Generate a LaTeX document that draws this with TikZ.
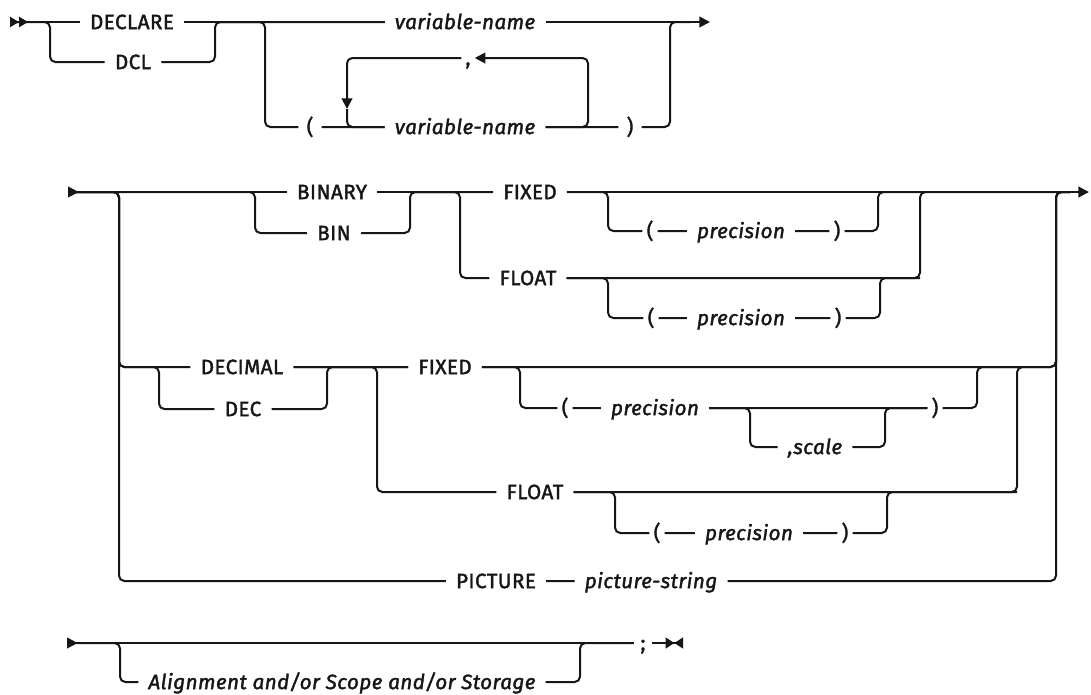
\documentclass[tikz,border=0pt]{standalone}
\usepackage{fontspec}
\newfontfamily\railfont{Fira Sans}[LetterSpace=2,FakeBold=1.8]
\usetikzlibrary{arrows.meta}

\begin{document}
\begin{tikzpicture}[x=0.75pt,y=-0.75pt,
  rail/.style={line width=1.5pt,rounded corners=4pt,draw=ink},
  kw/.style={font=\railfont\fontsize{15.5pt}{18pt}\selectfont,text=ink,inner xsep=7.5pt,inner ysep=2pt,text height=10.6pt,text depth=0pt},
  var/.style={kw,font=\railfont\fontsize{15.5pt}{18pt}\selectfont\itshape},
  sym/.style={kw,inner xsep=3pt},
  tip/.style={-{Triangle[length=8pt,width=8pt]}},
  lead/.style={{Triangle[reversed,length=8pt,width=8pt]}-}]
  \definecolor{ink}{HTML}{161616}
  \useasboundingbox (0,0) rectangle (1091,694);
  % First line: the keyword and the name list.
  \coordinate (r1s) at (10,22);
  \coordinate (c1) at (50,62);
  \coordinate (m1) at (215,22);
  \coordinate (c2) at (265,127);
  \coordinate (lpL) at (347,109);
  \coordinate (lpR) at (588,58);
  \coordinate (m2) at (670,22);
  \coordinate (r1j) at (690,22);
  \coordinate (r1e) at (710,22);
  \node[kw] (declare) at (132,22) {DECLARE};
  \node[kw] (dcl) at (133,62) {DCL};
  \node[var] (var1) at (465,22) {variable-name};
  \node[sym,inner xsep=6pt] (lp1) at (310,127) {(};
  \node[var] (var2) at (465,127) {variable-name};
  \node[sym,inner xsep=6pt] (rp1) at (630,127) {)};
  \node[sym] (comma) at (468,58) {,};
  \draw[rail,{Triangle[reversed,length=6.8pt,width=7.5pt] Triangle[reversed,length=6.8pt,width=7.5pt]}-] (r1s) -- (declare);
  \draw[rail,tip] (declare) -- (var1) -- (r1e);
  \draw[rail] (r1s) -| (c1) -- (dcl) -| (m1) -- (var1);
  \draw[rail] (m1) -| (c2) -- (lp1) -- (var2) -- (rp1) -| (m2) -- (r1j);
  % The repeat loop round the second name.
  \draw[rail,tip] (var2) -| (lpR) -- (comma);
  \draw[rail,tip] (comma) -| (lpL);
  \draw[rail] (lpL) |- (var2);
  % Second line: the attribute choices.
  \coordinate (r2s) at (68,192);
  \coordinate (c3) at (255,233);
  \coordinate (m3) at (410,192);
  \coordinate (c4) at (460,278);
  \coordinate (c5) at (608,231);
  \coordinate (m4) at (878,192);
  \coordinate (m5) at (920,192);
  \coordinate (c6) at (608,318);
  \coordinate (m7) at (880,278);
  \coordinate (m6) at (1056,192);
  \coordinate (r2j) at (1070,192);
  \coordinate (r2e) at (1089,192);
  \node[kw] (binary) at (332,192) {BINARY};
  \node[kw] (bin) at (334,233) {BIN};
  \node[kw] (fixed1) at (530,192) {FIXED};
  \node[kw] (float1) at (528,278) {FLOAT};
  \node[sym] (lp2) at (650,231) {(};
  \node[var] (prec1) at (741,231) {precision};
  \node[sym] (rp2) at (837,231) {)};
  \node[sym] (lp3) at (651,318) {(};
  \node[var] (prec2) at (741,318) {precision};
  \node[sym] (rp3) at (838,318) {)};
  \draw[rail,lead] (r2s) -- (binary);
  \draw[rail,tip] (binary) -- (fixed1) -- (r2e);
  \draw[rail] (r2s) -| (c3) -- (bin) -| (m3) -- (fixed1);
  \draw[rail] (m3) -| (c4) -- (float1) -| (m5) -- (m6);
  \draw[rail] (fixed1) -| (c5) -- (lp2) -- (prec1) -- (rp2) -| (m4) -- (m5);
  \draw[rail] (float1) -| (c6) -- (lp3) -- (prec2) -- (rp3) -| (m7) -- (float1 -| m5);
  % Decimal branch.
  \coordinate (c8) at (119,367);
  \coordinate (c9) at (159,409);
  \coordinate (m9) at (327,367);
  \coordinate (c10) at (377,492);
  \coordinate (c11) at (520,408);
  \coordinate (c12) at (750,447);
  \coordinate (m10) at (885,408);
  \coordinate (m11) at (977,367);
  \coordinate (m12) at (1017,367);
  \coordinate (c13) at (615,533);
  \coordinate (m14) at (887,492);
  \node[kw] (decimal) at (242,367) {DECIMAL};
  \node[kw] (dec) at (243,409) {DEC};
  \node[kw] (fixed2) at (445,367) {FIXED};
  \node[kw] (float2) at (535,492) {FLOAT};
  \node[sym] (lp4) at (565,408) {(};
  \node[var] (prec3) at (655,408) {precision};
  \node[var] (scale) at (815,447) {,scale};
  \node[sym] (rp4) at (935,408) {)};
  \node[sym] (lp5) at (657,533) {(};
  \node[var] (prec4) at (749,533) {precision};
  \node[sym] (rp5) at (845,533) {)};
  \draw[rail] (r2s) -| (c8) -- (decimal) -- (fixed2) -| (m6) -- (r2j);
  \draw[rail] (r2s) -| (c8) -| (c9) -- (dec) -| (m9) -- (fixed2);
  \draw[rail] (decimal) -| (c10) -- (float2) -| (m12) -| (m6) -- (r2j);
  \draw[rail] (fixed2) -| (c11) -- (lp4) -- (prec3) -- (rp4) -| (m11) -- (m12);
  \draw[rail] (prec3) -| (c12) -- (scale) -| (m10) -- (rp4);
  \draw[rail] (float2) -| (c13) -- (lp5) -- (prec4) -- (rp5) -| (m14) -- (float2 -| m12);
  % Picture branch.
  \coordinate (c7) at (119,581);
  \node[kw] (pic) at (496,581) {PICTURE};
  \node[var] (picstr) at (651,581) {picture-string};
  \draw[rail] (r2s) -| (c7) -- (pic) -- (picstr) -| (m6) -- (r2j);
  % Last line.
  \coordinate (r3s) at (67,643);
  \coordinate (c14) at (120,682);
  \coordinate (m15) at (580,643);
  \coordinate (r3e) at (683,643);
  \node[var] (align) at (342,682) {Alignment and/or Scope and/or Storage};
  \node[sym,inner xsep=5pt] (semi) at (643,643) {;};
  \draw[rail,lead] (r3s) -- (semi);
  \draw[rail,-{Triangle[length=6.5pt,width=8pt] Triangle[reversed,length=6.5pt,width=8pt]}] (semi) -- (r3e);
  \draw[rail] (r3s) -| (c14) -- (align) -| (m15) -- (semi);
\end{tikzpicture}
\end{document}
